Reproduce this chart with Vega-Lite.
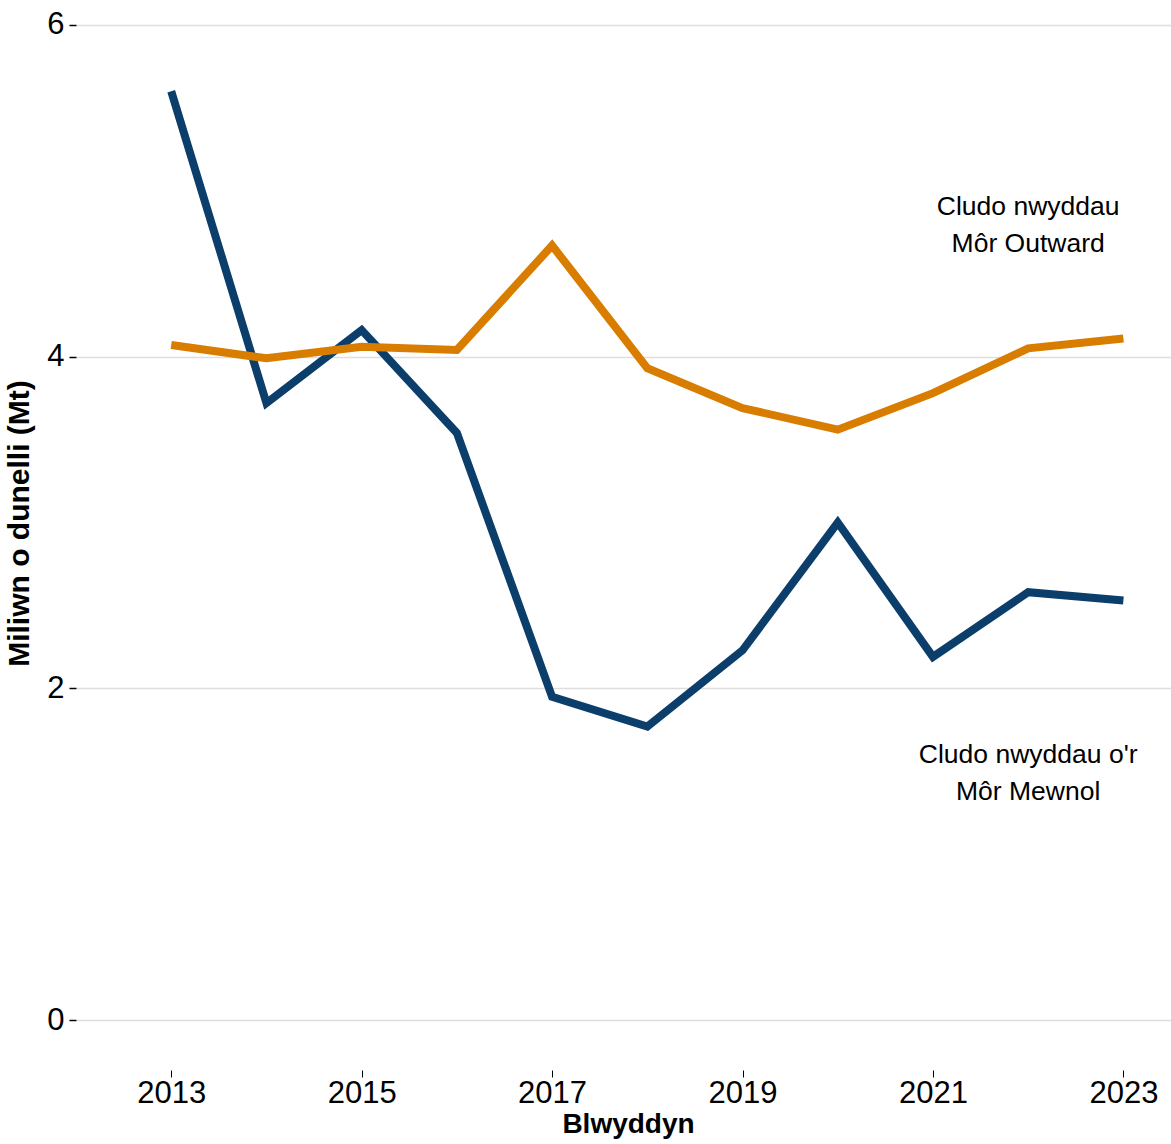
{
  "$schema": "https://vega.github.io/schema/vega-lite/v6.json",
  "width": 1095,
  "height": 1070,
  "autosize": {"type": "none"},
  "padding": {"left": 76, "top": 0, "right": 0, "bottom": 74},
  "background": "white",
  "config": {
    "view": {"stroke": null},
    "font": "Liberation Sans",
    "axis": {"labelFont": "Liberation Sans", "titleFont": "Liberation Sans", "labelColor": "black", "titleColor": "black"}
  },
  "datasets": {
    "series": [
      {"year": 2013, "series": "Mewnol", "value": 5.60},
      {"year": 2014, "series": "Mewnol", "value": 3.72},
      {"year": 2015, "series": "Mewnol", "value": 4.16},
      {"year": 2016, "series": "Mewnol", "value": 3.54},
      {"year": 2017, "series": "Mewnol", "value": 1.95},
      {"year": 2018, "series": "Mewnol", "value": 1.77},
      {"year": 2019, "series": "Mewnol", "value": 2.23},
      {"year": 2020, "series": "Mewnol", "value": 3.00},
      {"year": 2021, "series": "Mewnol", "value": 2.19},
      {"year": 2022, "series": "Mewnol", "value": 2.58},
      {"year": 2023, "series": "Mewnol", "value": 2.53},
      {"year": 2013, "series": "Outward", "value": 4.07},
      {"year": 2014, "series": "Outward", "value": 3.99},
      {"year": 2015, "series": "Outward", "value": 4.06},
      {"year": 2016, "series": "Outward", "value": 4.04},
      {"year": 2017, "series": "Outward", "value": 4.67},
      {"year": 2018, "series": "Outward", "value": 3.93},
      {"year": 2019, "series": "Outward", "value": 3.69},
      {"year": 2020, "series": "Outward", "value": 3.56},
      {"year": 2021, "series": "Outward", "value": 3.78},
      {"year": 2022, "series": "Outward", "value": 4.05},
      {"year": 2023, "series": "Outward", "value": 4.11}
    ],
    "labels": [
      {"year": 2022, "value": 4.9, "label": "Cludo nwyddau\nMôr Outward"},
      {"year": 2022, "value": 1.6, "label": "Cludo nwyddau o'r\nMôr Mewnol"}
    ]
  },
  "layer": [
    {
      "data": {"name": "series"},
      "mark": {"type": "line", "strokeWidth": 8, "strokeCap": "butt", "strokeJoin": "miter"},
      "encoding": {
        "x": {
          "field": "year", "type": "quantitative",
          "scale": {"domain": [2012.0, 2023.5], "nice": false, "zero": false},
          "axis": {
            "values": [2013, 2015, 2017, 2019, 2021, 2023],
            "format": "d",
            "grid": false,
            "domain": false,
            "tickSize": 7,
            "tickColor": "black",
            "tickWidth": 1,
            "labelFontSize": 31,
            "labelPadding": 1,
            "title": "Blwyddyn",
            "titleFontSize": 28,
            "titleFontWeight": "bold",
            "titlePadding": 2,
            "titleX": 552,
            "titleAnchor": "middle"
          }
        },
        "y": {
          "field": "value", "type": "quantitative",
          "scale": {"domain": [-0.3, 6.15], "nice": false, "zero": false},
          "axis": {
            "values": [0, 2, 4, 6],
            "format": "d",
            "grid": true,
            "gridColor": "#dedede",
            "gridWidth": 1.5,
            "domain": false,
            "tickSize": 7,
            "tickColor": "black",
            "tickWidth": 1.5,
            "labelFontSize": 31,
            "labelPadding": 5,
            "title": "Miliwn o dunelli (Mt)",
            "titleFontSize": 30,
            "titleFontWeight": "bold",
            "titlePadding": 12,
            "titleY": 523
          }
        },
        "color": {
          "field": "series", "type": "nominal",
          "scale": {"domain": ["Mewnol", "Outward"], "range": ["#0b3e6b", "#d87d00"]},
          "legend": null
        }
      }
    },
    {
      "data": {"name": "labels"},
      "mark": {"type": "text", "fontSize": 26.5, "align": "center", "baseline": "middle", "lineBreak": "\n", "lineHeight": 37, "color": "black", "font": "Liberation Sans"},
      "encoding": {
        "x": {"field": "year", "type": "quantitative"},
        "y": {"field": "value", "type": "quantitative"},
        "text": {"field": "label"}
      }
    }
  ]
}
